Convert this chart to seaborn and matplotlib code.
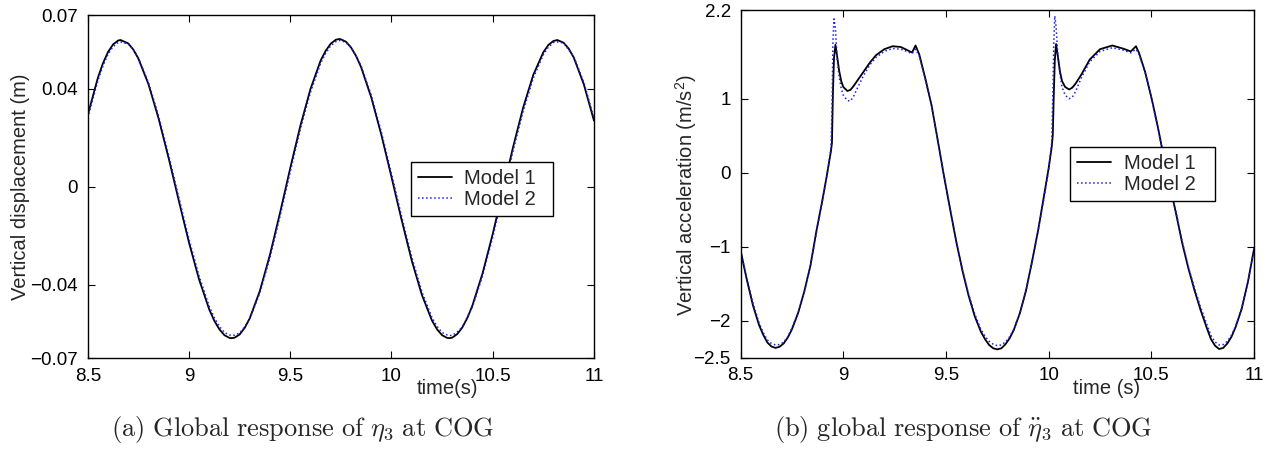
import numpy as np
import pandas as pd
import matplotlib
matplotlib.use("Agg")
import matplotlib.pyplot as plt
import seaborn as sns

# ---------------- data ----------------
# (a) vertical displacement at COG
time_a = [8.50, 8.55, 8.575, 8.60, 8.625, 8.65, 8.662, 8.70, 8.725, 8.75,
          8.80, 8.85, 8.90, 8.95, 9.00, 9.05, 9.10, 9.125, 9.15, 9.175,
          9.20, 9.21, 9.225, 9.25, 9.275, 9.30, 9.35, 9.40, 9.45, 9.50,
          9.55, 9.60, 9.65, 9.675, 9.70, 9.725, 9.742, 9.75, 9.775, 9.80,
          9.825, 9.85, 9.90, 9.95, 10.00, 10.05, 10.10, 10.15, 10.20, 10.225,
          10.25, 10.275, 10.285, 10.30, 10.325, 10.35, 10.375, 10.40, 10.45, 10.50,
          10.55, 10.60, 10.65, 10.70, 10.75, 10.775, 10.80, 10.819, 10.85, 10.875,
          10.90, 10.95, 11.00]
disp_model1 = [0.0292, 0.0444, 0.0503, 0.0549, 0.0580, 0.0596, 0.0598, 0.0584, 0.0559, 0.0522,
               0.0417, 0.0277, 0.0114, -0.0059, -0.0229, -0.0380, -0.0502, -0.0548, -0.0583, -0.0607,
               -0.0618, -0.0619, -0.0617, -0.0604, -0.0577, -0.0538, -0.0426, -0.0278, -0.0106, 0.0075,
               0.0248, 0.0398, 0.0514, 0.0554, 0.0583, 0.0599, 0.0602, 0.0601, 0.0591, 0.0568,
               0.0533, 0.0487, 0.0364, 0.0211, 0.0039, -0.0136, -0.0302, -0.0442, -0.0547, -0.0583,
               -0.0607, -0.0618, -0.0619, -0.0617, -0.0602, -0.0575, -0.0536, -0.0485, -0.0354, -0.0194,
               -0.0018, 0.0159, 0.0321, 0.0455, 0.0548, 0.0578, 0.0594, 0.0598, 0.0587, 0.0563,
               0.0527, 0.0417, 0.0269]
disp_model2 = [0.0280, 0.0433, 0.0492, 0.0540, 0.0571, 0.0588, 0.0590, 0.0582, 0.0559, 0.0525,
               0.0424, 0.0287, 0.0126, -0.0046, -0.0215, -0.0366, -0.0489, -0.0536, -0.0571, -0.0596,
               -0.0606, -0.0607, -0.0607, -0.0598, -0.0573, -0.0540, -0.0434, -0.0290, -0.0120, 0.0060,
               0.0234, 0.0385, 0.0503, 0.0544, 0.0575, 0.0591, 0.0596, 0.0596, 0.0588, 0.0568,
               0.0533, 0.0492, 0.0373, 0.0222, 0.0052, -0.0122, -0.0288, -0.0429, -0.0535, -0.0571,
               -0.0596, -0.0606, -0.0608, -0.0608, -0.0594, -0.0574, -0.0532, -0.0491, -0.0364, -0.0207,
               -0.0033, 0.0144, 0.0306, 0.0442, 0.0538, 0.0569, 0.0588, 0.0590, 0.0586, 0.0558,
               0.0531, 0.0425, 0.0280]

# (b) vertical acceleration at COG (denser sampling around spikes and troughs)
time_b = [8.50, 8.53, 8.56, 8.59, 8.61, 8.63, 8.65, 8.67, 8.69, 8.71,
          8.73, 8.75, 8.78, 8.81, 8.84, 8.87, 8.90, 8.92, 8.94, 8.945,
          8.950, 8.955, 8.962, 8.970, 8.98, 8.99, 9.00, 9.02, 9.035, 9.05,
          9.07, 9.10, 9.13, 9.16, 9.20, 9.24, 9.28, 9.31, 9.335, 9.352,
          9.37, 9.40, 9.43, 9.46, 9.49, 9.52, 9.55, 9.58, 9.61, 9.64,
          9.67, 9.69, 9.71, 9.73, 9.75, 9.77, 9.79, 9.81, 9.83, 9.86,
          9.89, 9.92, 9.95, 9.98, 10.00, 10.015, 10.020, 10.025, 10.030, 10.036,
          10.045, 10.055, 10.065, 10.08, 10.10, 10.115, 10.13, 10.16, 10.20, 10.25,
          10.31, 10.36, 10.40, 10.425, 10.44, 10.47, 10.50, 10.53, 10.56, 10.59,
          10.62, 10.65, 10.68, 10.71, 10.74, 10.77, 10.79, 10.81, 10.83, 10.85,
          10.87, 10.89, 10.91, 10.94, 10.97, 11.00]
acc_model1 = [-1.05, -1.44, -1.79, -2.06, -2.19, -2.295, -2.35, -2.37, -2.355, -2.31,
              -2.23, -2.12, -1.90, -1.61, -1.26, -0.78, -0.35, -0.04, 0.29, 0.40,
              1.10, 1.55, 1.73, 1.58, 1.38, 1.24, 1.16, 1.105, 1.12, 1.17,
              1.25, 1.37, 1.49, 1.59, 1.67, 1.71, 1.70, 1.66, 1.625, 1.72,
              1.60, 1.27, 0.91, 0.44, -0.04, -0.49, -0.93, -1.32, -1.66, -1.94,
              -2.15, -2.25, -2.33, -2.375, -2.39, -2.375, -2.32, -2.24, -2.13, -1.90,
              -1.59, -1.19, -0.76, -0.27, 0.06, 0.35, 0.50, 1.05, 1.52, 1.74,
              1.57, 1.37, 1.24, 1.16, 1.125, 1.15, 1.20, 1.33, 1.53, 1.67,
              1.72, 1.68, 1.64, 1.71, 1.62, 1.36, 1.02, 0.64, 0.22, -0.17,
              -0.55, -0.95, -1.29, -1.59, -1.86, -2.10, -2.25, -2.34, -2.385, -2.37,
              -2.31, -2.22, -2.09, -1.84, -1.48, -1.03]
acc_model2 = [-1.06, -1.42, -1.76, -2.03, -2.16, -2.26, -2.31, -2.33, -2.325, -2.29,
              -2.22, -2.10, -1.90, -1.62, -1.27, -0.80, -0.36, -0.05, 0.32, 0.80,
              1.80, 2.08, 1.95, 1.55, 1.30, 1.14, 1.05, 0.975, 0.97, 1.03,
              1.15, 1.32, 1.46, 1.56, 1.64, 1.68, 1.67, 1.64, 1.61, 1.67,
              1.58, 1.26, 0.90, 0.44, -0.03, -0.48, -0.92, -1.31, -1.64, -1.91,
              -2.12, -2.21, -2.28, -2.32, -2.34, -2.33, -2.29, -2.22, -2.12, -1.90,
              -1.60, -1.20, -0.77, -0.30, 0.04, 0.40, 1.00, 1.75, 2.12, 1.98,
              1.58, 1.34, 1.16, 1.05, 1.00, 1.02, 1.09, 1.29, 1.50, 1.64,
              1.69, 1.66, 1.62, 1.67, 1.60, 1.35, 1.01, 0.63, 0.22, -0.16,
              -0.53, -0.93, -1.27, -1.56, -1.82, -2.05, -2.20, -2.29, -2.33, -2.325,
              -2.28, -2.20, -2.08, -1.83, -1.48, -1.04]

series_names = ["Model 1", "Model 2"]

x_ticks = [8.5, 9, 9.5, 10, 10.5, 11]
x_ticklabels = ["8.5", "9", "9.5", "10", "10.5", "11"]
ya_ticks = [-0.07, -0.04, 0, 0.04, 0.07]
ya_ticklabels = ["\u22120.07", "\u22120.04", "0", "0.04", "0.07"]
yb_ticks = [-2.5, -2, -1, 0, 1, 2.2]
yb_ticklabels = ["\u22122.5", "\u22122", "\u22121", "0", "1", "2.2"]

ylabel_a = "Vertical displacement (m)"
ylabel_b = "Vertical acceleration (m/s$\\mathregular{^2}$)"
xlabel_a = "time(s)"
xlabel_b = "time (s)"
caption_a = r"$\mathrm{(a)\ Global\ response\ of\ }\eta_3\mathrm{\ at\ COG}$"
caption_b = r"$\mathrm{(b)\ global\ response\ of\ }\ddot{\eta}_3\mathrm{\ at\ COG}$"

# ---------------- style ----------------
sns.set_style("ticks")
plt.rcParams["font.family"] = ["Liberation Sans", "DejaVu Sans"]
plt.rcParams["mathtext.fontset"] = "cm"
plt.rcParams["axes.unicode_minus"] = True

TICK_FS = 13.5
LABEL_FS = 14.5
LEGEND_FS = 14.5
CAPTION_FS = 19

fig = plt.figure(figsize=(12.87, 4.51), dpi=100)
ax_a = fig.add_axes([0.0682, 0.2062, 0.3933, 0.7605])
ax_b = fig.add_axes([0.5754, 0.2073, 0.3990, 0.7705])

df_a = pd.DataFrame({"t": time_a, "m1": disp_model1, "m2": disp_model2})
df_b = pd.DataFrame({"t": time_b, "m1": acc_model1, "m2": acc_model2})

for ax, df in ((ax_a, df_a), (ax_b, df_b)):
    sns.lineplot(data=df, x="t", y="m1", ax=ax, color="black", linewidth=1.3,
                 label=series_names[0], sort=False)
    sns.lineplot(data=df, x="t", y="m2", ax=ax, color="#1a1aff", linewidth=1.1,
                 linestyle=":", label=series_names[1], sort=False)

def style_axes(ax, yticks, yticklabels, ylim, xlabel, ylabel, xlab_xy, ylab_xy, leg_box):
    ax.set_xlim(8.5, 11)
    ax.set_ylim(*ylim)
    ax.set_xticks(x_ticks)
    ax.set_xticklabels(x_ticklabels)
    ax.set_yticks(yticks)
    ax.set_yticklabels(yticklabels)
    ax.tick_params(direction="in", top=True, right=True, length=5, width=0.8,
                   labelsize=TICK_FS, pad=7, colors="black")
    for sp in ax.spines.values():
        sp.set_visible(True)
        sp.set_color("black")
        sp.set_linewidth(1.0)
    ax.set_xlabel(xlabel, fontsize=LABEL_FS, va="center")
    ax.xaxis.set_label_coords(*xlab_xy)
    ax.set_ylabel(ylabel, fontsize=LABEL_FS, va="center")
    ax.yaxis.set_label_coords(*ylab_xy)
    leg = ax.legend(loc="upper left", bbox_to_anchor=leg_box, mode="expand",
                    fontsize=LEGEND_FS, frameon=True, fancybox=False,
                    edgecolor="black", framealpha=1, borderpad=0.35,
                    handlelength=1.7, handletextpad=0.6, labelspacing=0.1,
                    borderaxespad=0.0)
    leg.get_frame().set_linewidth(1.0)

style_axes(ax_a, ya_ticks, ya_ticklabels, (-0.07, 0.07), xlabel_a, ylabel_a,
           (0.71, -0.0875), (-0.133, 0.5), (0.638, 0.424, 0.281, 0.148))
style_axes(ax_b, yb_ticks, yb_ticklabels, (-2.5, 2.2), xlabel_b, ylabel_b,
           (0.713, -0.088), (-0.106, 0.468), (0.642, 0.455, 0.282, 0.152))

fig.text(0.2354, 0.0466, caption_a, ha="center", va="center", fontsize=CAPTION_FS)
fig.text(0.7483, 0.0466, caption_b, ha="center", va="center", fontsize=CAPTION_FS)

fig.savefig("out.png", dpi=100)
